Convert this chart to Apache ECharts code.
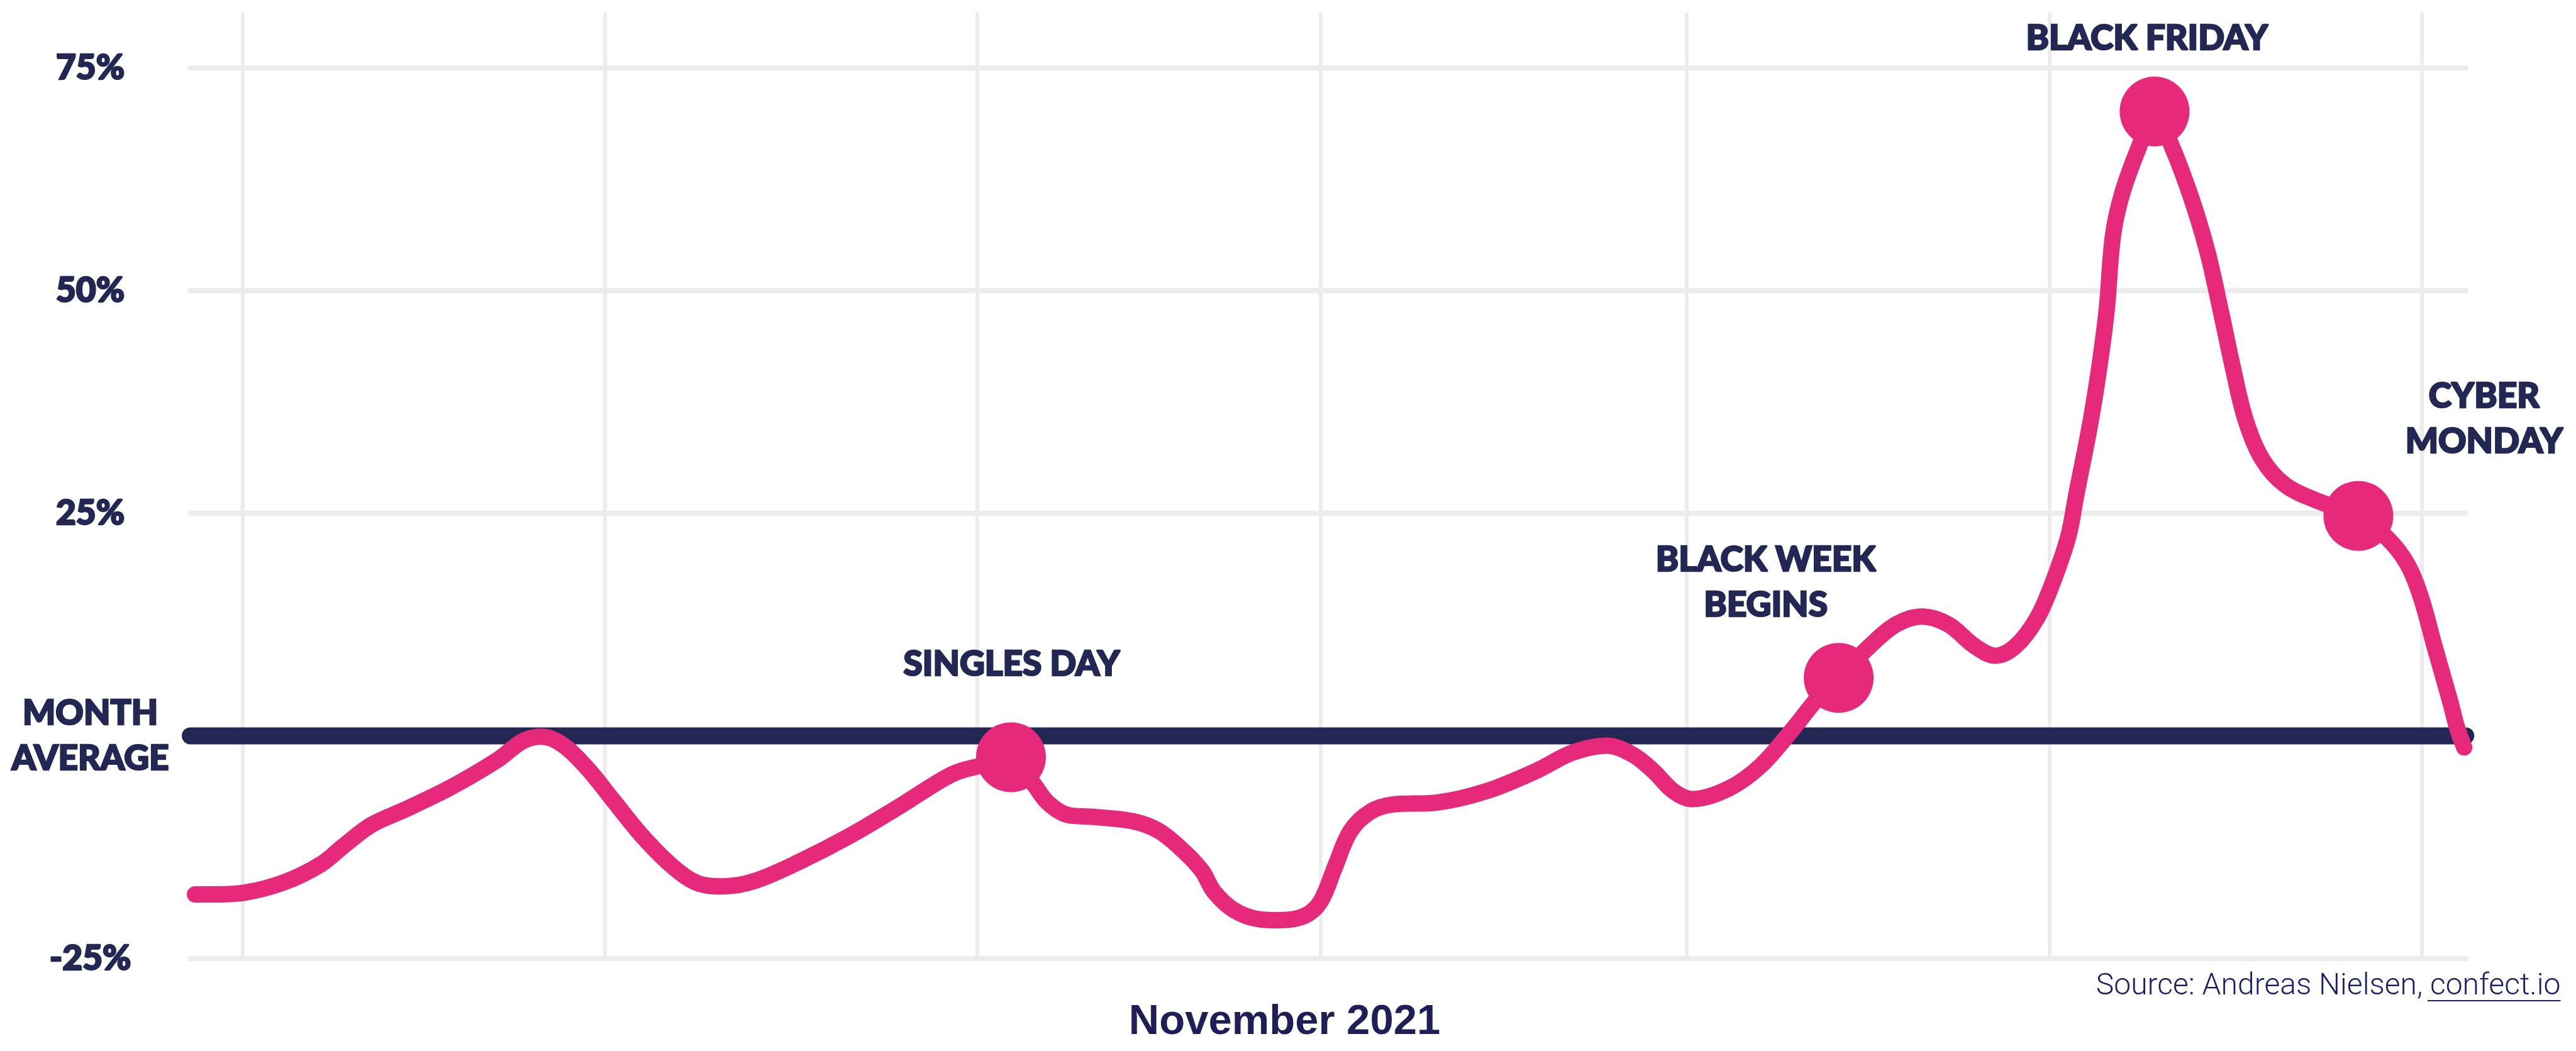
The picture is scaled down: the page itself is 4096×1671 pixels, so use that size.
<!DOCTYPE html>
<html>
<head>
<meta charset="utf-8">
<title>November 2021</title>
<script src="https://cdn.jsdelivr.net/npm/echarts@6/dist/echarts.min.js"></script>
<style>
  html, body { margin: 0; padding: 0; background: #fff; }
  #chart { width: 4096px; height: 1671px; }
</style>
</head>
<body>
<div id="chart"></div>
<script>
// day of November and change vs. the month average, in %
const days = [1.00, 1.25, 1.64, 2.15, 2.61, 2.89, 3.25, 3.70, 4.28, 4.86, 5.18, 5.42, 5.69, 6.01, 6.34,
  6.72, 7.11, 7.43, 7.74, 8.14, 8.72, 9.36, 10.01, 10.66, 11.04, 11.41, 11.69, 11.88, 12.14, 12.46,
  12.97, 13.30, 13.62, 13.85, 14.00, 14.26, 14.58, 14.84, 15.16, 15.36, 15.54, 15.74, 16.00, 16.29,
  16.84, 17.48, 18.12, 18.57, 19.01, 19.34, 19.60, 19.86, 20.10, 20.57, 20.97, 21.37, 21.70, 21.97,
  22.37, 22.70, 23.03, 23.37, 23.70, 23.97, 24.23, 24.50, 24.70, 24.90, 25.00, 25.18, 25.30, 25.39,
  25.47, 25.59, 25.80, 26.00, 26.21, 26.46, 26.67, 26.84, 27.00, 27.16, 27.37, 27.66, 28.07, 28.60,
  28.98, 29.23, 29.40, 29.57, 29.77, 29.86, 29.95];
const change = [-17.8, -17.8, -17.6, -16.4, -14.4, -12.4, -10.0, -8.2, -5.7, -2.7, -0.6, -0.1, -1.0, -3.7, -7.3,
  -11.4, -14.8, -16.6, -16.9, -16.3, -14.1, -11.2, -7.8, -4.3, -3.3, -2.4, -5.3, -7.5, -8.9, -9.1,
  -9.6, -10.7, -13.0, -15.2, -17.5, -19.6, -20.6, -20.7, -20.2, -18.6, -14.8, -10.7, -8.5, -7.7,
  -7.5, -6.2, -3.9, -1.9, -1.1, -2.1, -3.9, -6.2, -7.1, -5.9, -3.4, 0.6, 4.2, 6.5,
  10.1, 12.5, 13.4, 12.5, 10.1, 9.0, 10.1, 13.2, 17.2, 22.4, 27.0, 35.1, 41.7, 47.9,
  56.2, 61.0, 66.1, 70.1, 66.4, 60.6, 54.5, 47.9, 41.3, 35.5, 31.1, 28.2, 26.4, 24.7,
  22.1, 19.2, 15.5, 10.1, 3.9, 0.9, -1.3];

const eventNames = ['SINGLES DAY', 'BLACK WEEK\nBEGINS', 'BLACK FRIDAY', 'CYBER\nMONDAY'];
const eventDays = [11.41, 21.97, 26.00, 28.60];
const eventChange = [-2.4, 6.5, 70.1, 24.7];

const yTicks = [-25, 0, 25, 50, 75];
const gridDays = [1.61, 6.23, 10.98, 15.36, 20.03, 24.66, 29.41];
const monthAverage = 0;
const xTitle = 'November 2021';

const X_MIN = 0.94, X_MAX = 29.97, Y_MIN = -25, Y_MAX = 81;
const PINK = '#e7297b';
const NAVY = '#232753';
const GRID = '#ececec';
// heavy display type: Lato bold thickened with a thin outline of the same colour
const boldFont = {
  fontFamily: 'Lato', fontWeight: 900, fontSize: 55, color: NAVY,
  textBorderColor: NAVY, textBorderWidth: 2.5
};

// label offsets from each marker centre (px)
const labelOffsets = [[1, -148], [-116, -152], [-12, -116], [200, -154]];

const chart = echarts.init(document.getElementById('chart'));
chart.setOption({
  animation: false,
  backgroundColor: '#fff',
  grid: { left: 302.6, right: 175.3, top: 22.9, bottom: 147.1 },
  xAxis: {
    type: 'value', min: X_MIN, max: X_MAX,
    axisLine: { show: false }, axisTick: { show: false },
    axisLabel: { show: false }, splitLine: { show: false }
  },
  yAxis: {
    type: 'value', min: Y_MIN, max: Y_MAX, interval: 25,
    axisLine: { show: false }, axisTick: { show: false }, splitLine: { show: false },
    axisLabel: {
      ...boldFont, align: 'center', margin: 159, lineHeight: 72, showMaxLabel: false,
      formatter: v => yTicks.indexOf(v) < 0 ? '' : (v === monthAverage ? 'MONTH\nAVERAGE' : v + '%')
    }
  },
  series: [
    {
      // grid lines
      type: 'line', data: [], z: 1, silent: true,
      markLine: {
        z: 1, silent: true, symbol: ['none', 'none'], label: { show: false },
        emphasis: { disabled: true },
        data: yTicks.filter(v => v !== monthAverage).map(v => ({
          yAxis: v, lineStyle: { color: GRID, width: 8.3, type: 'solid', cap: 'round' }
        })).concat(gridDays.map(d => ({
          xAxis: d, lineStyle: { color: GRID, width: 6, type: 'solid', cap: 'round' }
        })))
      }
    },
    {
      name: 'Month average', type: 'line', z: 2, silent: true, showSymbol: false,
      data: [[X_MIN, monthAverage], [X_MAX, monthAverage]],
      lineStyle: { color: NAVY, width: 27, cap: 'round' }
    },
    {
      name: 'Sales', type: 'line', z: 3, silent: true, showSymbol: false, smooth: 0.35,
      data: days.map((d, i) => [d, change[i]]),
      lineStyle: { color: PINK, width: 26, cap: 'round', join: 'round' }
    },
    {
      name: 'Events', type: 'scatter', z: 4, silent: true, symbolSize: 111,
      itemStyle: { color: PINK, opacity: 1 },
      data: eventDays.map((d, i) => ({
        name: eventNames[i], value: [d, eventChange[i]],
        label: { offset: labelOffsets[i] }
      })),
      label: {
        show: true, position: 'inside', formatter: p => p.name,
        ...boldFont, align: 'center', lineHeight: 72
      }
    }
  ],
  graphic: [
    {
      type: 'text', x: 2042.5, y: 1626, silent: true,
      style: {
        text: xTitle, fill: '#201e57', font: 'bold 67px "Liberation Sans", Arial, sans-serif',
        textAlign: 'center', textVerticalAlign: 'middle'
      }
    },
    {
      type: 'text', x: 4071.5, y: 1569, silent: true,
      style: {
        text: 'Source: Andreas Nielsen, confect.io', fill: '#1b1f6b',
        font: '300 48px Roboto, sans-serif', textAlign: 'right', textVerticalAlign: 'middle'
      }
    },
    {
      type: 'line', silent: true,
      shape: { x1: 3860, y1: 1591, x2: 4071.5, y2: 1591 },
      style: { stroke: '#1b1f6b', lineWidth: 2 }
    }
  ]
});
</script>
</body>
</html>
